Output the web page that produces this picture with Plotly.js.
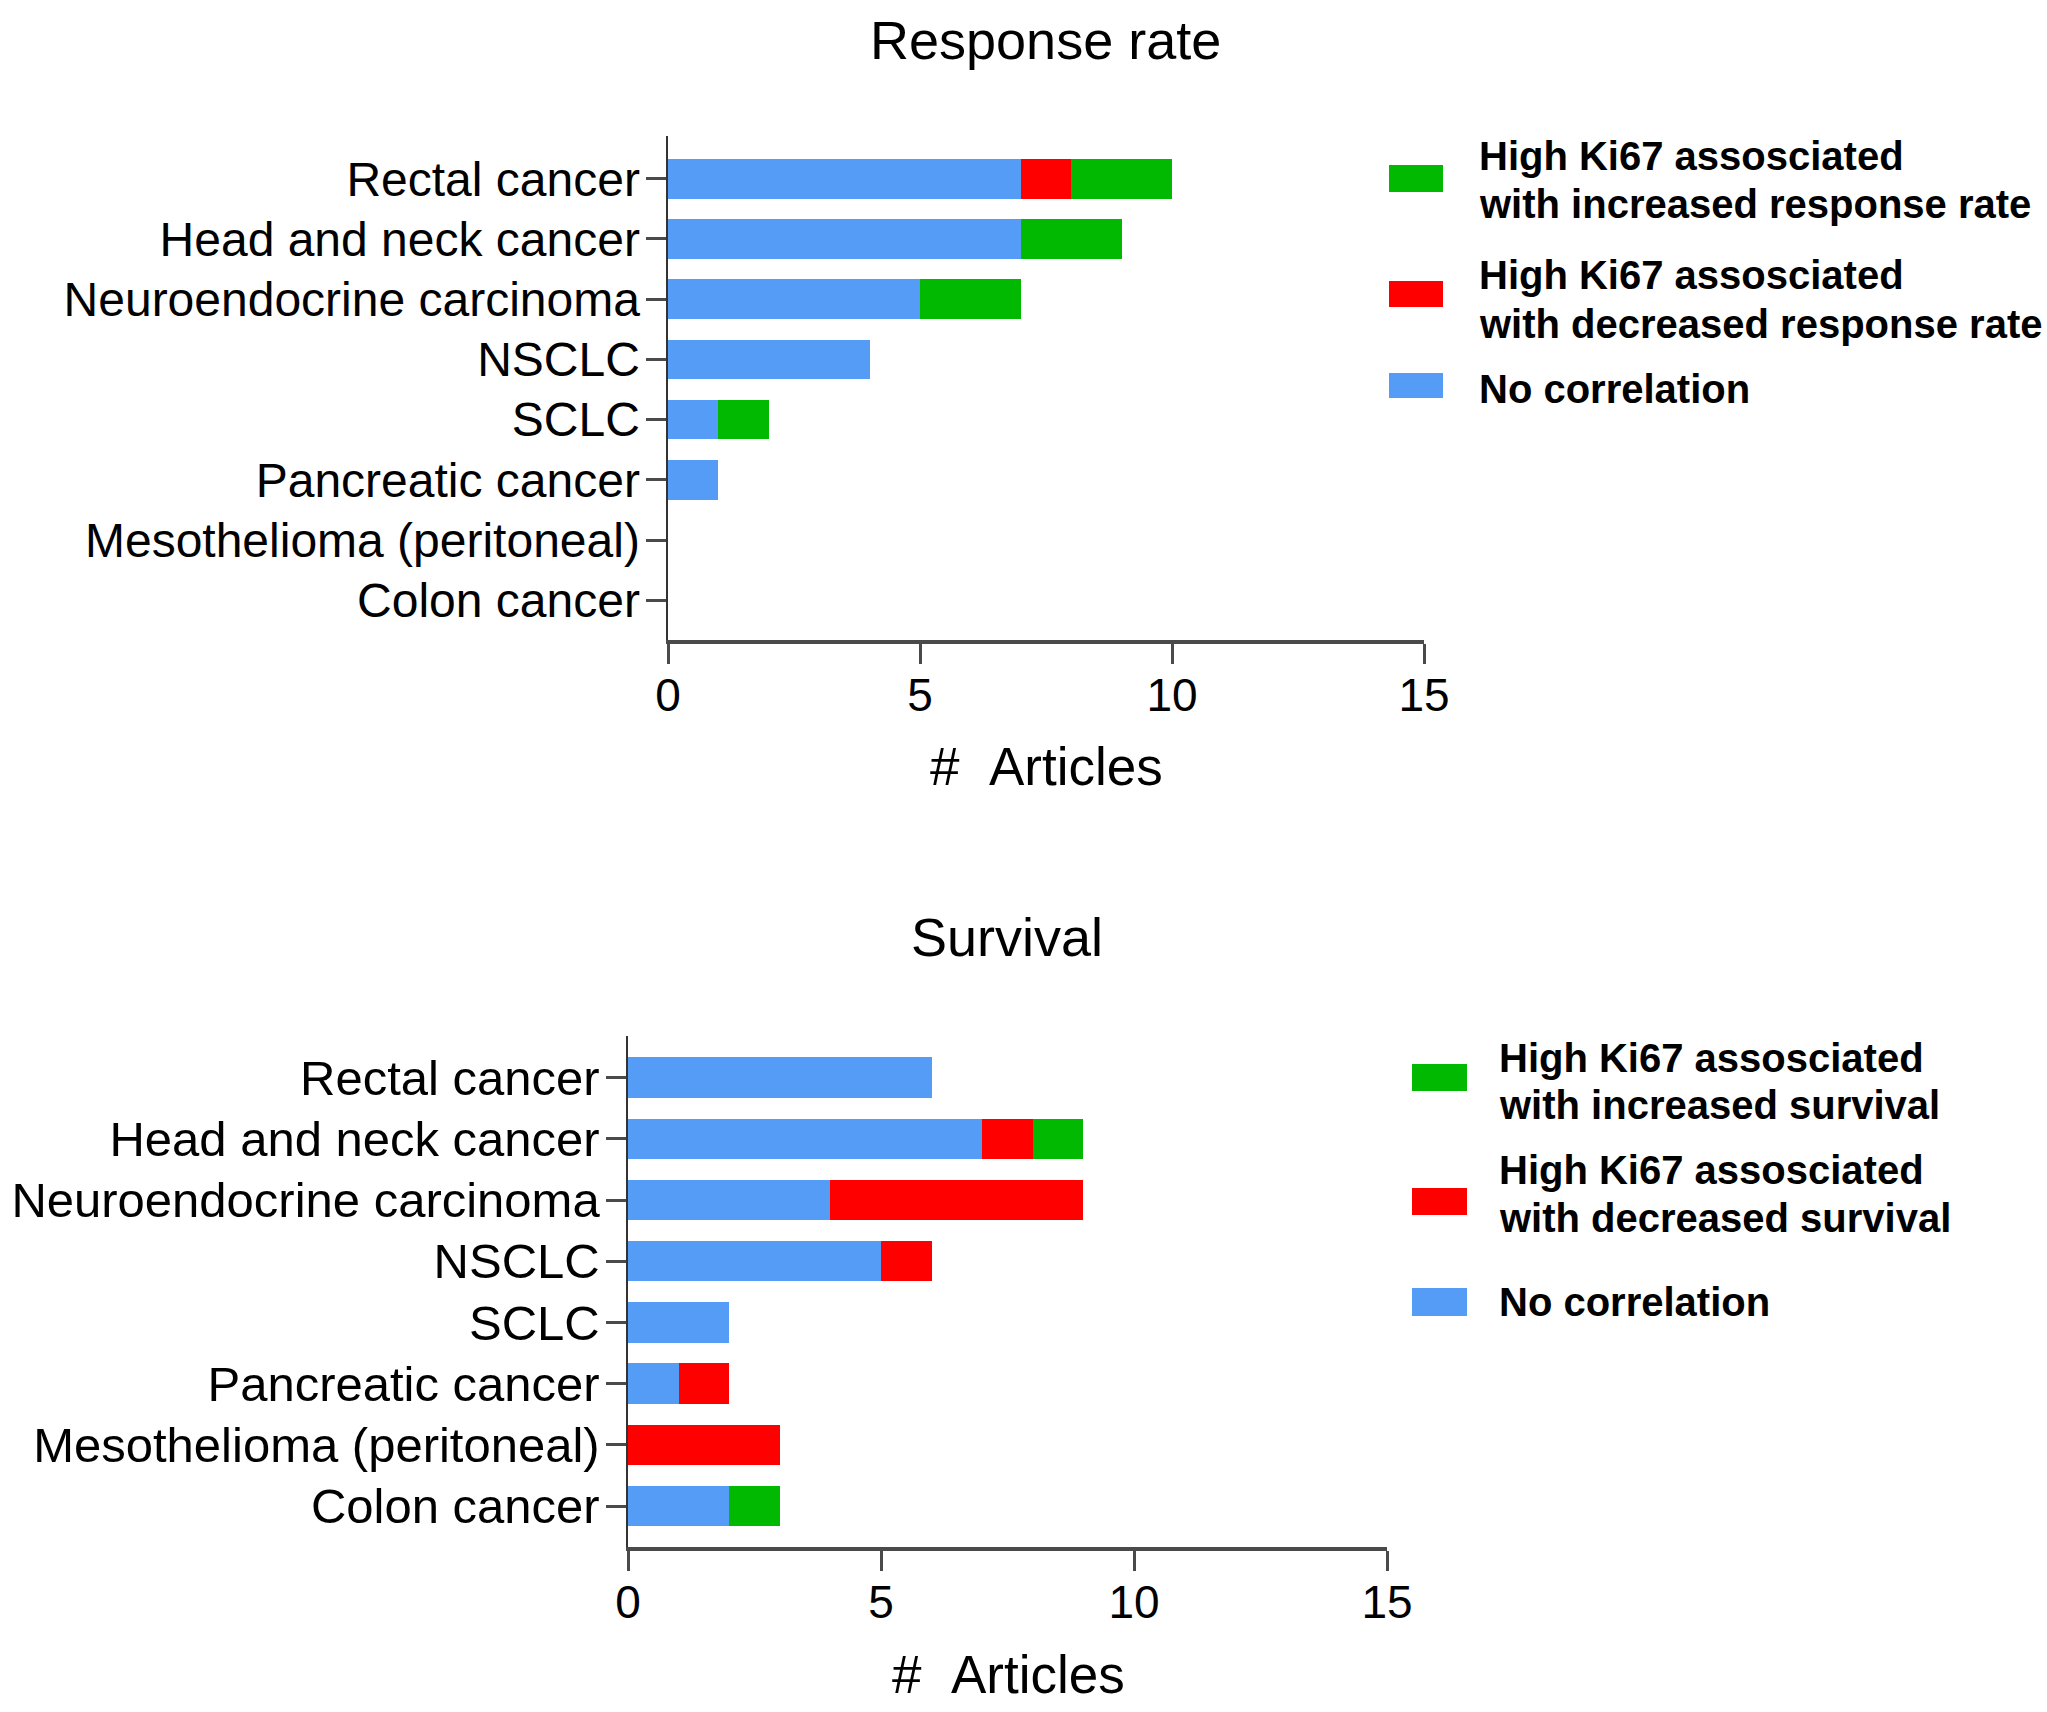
<!DOCTYPE html>
<html>
<head>
<meta charset="utf-8">
<script src="https://cdn.plot.ly/plotly-3.0.1.min.js"></script>
<style>
  html, body { margin: 0; padding: 0; background: #ffffff; }
  #chart { width: 2047px; height: 1712px; }
</style>
</head>
<body>
<div id="chart"></div>
<script>
// ---- data ---------------------------------------------------------------
const categories = [
  'Rectal cancer', 'Head and neck cancer', 'Neuroendocrine carcinoma', 'NSCLC',
  'SCLC', 'Pancreatic cancer', 'Mesothelioma (peritoneal)', 'Colon cancer'
];

// Response rate panel (# articles)
const responseNoCorr    = [7, 7, 5, 4, 1, 1, 0, 0];
const responseDecreased = [1, 0, 0, 0, 0, 0, 0, 0];
const responseIncreased = [2, 2, 2, 0, 1, 0, 0, 0];

// Survival panel (# articles)
const survivalNoCorr    = [6, 7, 4, 5, 2, 1, 0, 2];
const survivalDecreased = [0, 1, 5, 1, 0, 1, 3, 0];
const survivalIncreased = [0, 1, 0, 0, 0, 0, 0, 1];

const xTicks = [0, 5, 10, 15];

const panelTitles = ['Response rate', 'Survival'];
const axisTitle = '#\u00a0\u00a0Articles';

const responseLegend = [
  ['High Ki67 assosciated', 'with increased response rate'],
  ['High Ki67 assosciated', 'with decreased response rate'],
  ['No correlation']
];
const survivalLegend = [
  ['High Ki67 assosciated', 'with increased survival'],
  ['High Ki67 assosciated', 'with decreased survival'],
  ['No correlation']
];

// ---- styling --------------------------------------------------------------
const W = 2047, H = 1712;
const FONT = 'Liberation Sans, Arial, Helvetica, sans-serif';
const COLORS = {
  increased: '#00b900',
  decreased: '#ff0000',
  none: '#559cf7',
  axis: '#4a4a4a'
};

// pixel -> paper helpers (margins are zero)
const px = x => x / W;
const py = y => 1 - y / H;

function barTrace(values, color, name, xa, ya) {
  return {
    type: 'bar',
    orientation: 'h',
    x: values,
    y: categories,
    name: name,
    xaxis: xa,
    yaxis: ya,
    marker: { color: color, line: { width: 0 } },
    showlegend: false,
    hoverinfo: 'x+y+name'
  };
}

const traces = [
  barTrace(responseNoCorr, COLORS.none, 'No correlation', 'x', 'y'),
  barTrace(responseDecreased, COLORS.decreased, 'Decreased response rate', 'x', 'y'),
  barTrace(responseIncreased, COLORS.increased, 'Increased response rate', 'x', 'y'),
  barTrace(survivalNoCorr, COLORS.none, 'No correlation', 'x2', 'y2'),
  barTrace(survivalDecreased, COLORS.decreased, 'Decreased survival', 'x2', 'y2'),
  barTrace(survivalIncreased, COLORS.increased, 'Increased survival', 'x2', 'y2')
];

function xAxis(domain, anchor) {
  return {
    domain: domain,
    anchor: anchor,
    range: [0, 15],
    tickmode: 'array',
    tickvals: xTicks,
    ticks: 'outside',
    ticklen: 20,
    tickwidth: 3,
    tickcolor: COLORS.axis,
    ticklabelstandoff: -8,
    showline: true,
    linewidth: 4,
    linecolor: COLORS.axis,
    showgrid: false,
    zeroline: false,
    fixedrange: true,
    tickfont: { family: FONT, size: 46, color: '#000' }
  };
}

function yAxis(domain, anchor, range, fontSize) {
  return {
    domain: domain,
    anchor: anchor,
    type: 'category',
    categoryorder: 'array',
    categoryarray: categories,
    range: range,
    ticks: 'outside',
    ticklen: 20,
    tickwidth: 3,
    tickcolor: COLORS.axis,
    ticklabelstandoff: -4,
    showline: true,
    linewidth: 2.5,
    linecolor: '#333',
    showgrid: false,
    zeroline: false,
    fixedrange: true,
    tickfont: { family: FONT, size: fontSize, color: '#000' }
  };
}

// legend drawn as shapes + text so the swatches keep the original size
const shapes = [];
const annotations = [];

function addLegend(entries, swX, swW, swYs, textX, lineYs) {
  const cols = [COLORS.increased, COLORS.decreased, COLORS.none];
  entries.forEach((lines, i) => {
    shapes.push({
      type: 'rect', xref: 'paper', yref: 'paper',
      x0: px(swX), x1: px(swX + swW),
      y0: py(swYs[i][0]), y1: py(swYs[i][1]),
      fillcolor: cols[i], line: { width: 0 }
    });
    lines.forEach((txt, j) => {
      annotations.push({
        xref: 'paper', yref: 'paper',
        x: px(textX), y: py(lineYs[i][j]),
        xanchor: 'left', yanchor: 'middle',
        text: txt, showarrow: false,
        font: { family: FONT, size: 40, color: '#000', weight: 'bold' }
      });
    });
  });
}

addLegend(responseLegend, 1389, 54,
  [[165, 192], [281, 307], [373, 398]], 1477,
  [[156, 204], [275, 324], [389]]);
addLegend(survivalLegend, 1412, 55,
  [[1064, 1091], [1188, 1215], [1288, 1316]], 1497,
  [[1058, 1105], [1170, 1218], [1302]]);

function addText(txt, x, y, size) {
  annotations.push({
    xref: 'paper', yref: 'paper', x: px(x), y: py(y),
    xanchor: 'center', yanchor: 'middle', showarrow: false,
    text: txt, font: { family: FONT, size: size, color: '#000' }
  });
}

addText(panelTitles[0], 1045, 40, 54);
addText(panelTitles[1], 1007, 937, 54);
addText(axisTitle, 1046, 766, 53);
addText(axisTitle, 1008, 1674, 53);

const layout = {
  width: W,
  height: H,
  margin: { t: 0, r: 0, b: 0, l: 0 },
  paper_bgcolor: '#ffffff',
  plot_bgcolor: '#ffffff',
  barmode: 'stack',
  bargap: 0.34,
  showlegend: false,
  xaxis: xAxis([px(668), px(1424)], 'y'),
  yaxis: yAxis([py(640), py(136)], 'x', [7.66, -0.71], 48),
  xaxis2: xAxis([px(628), px(1387)], 'y2'),
  yaxis2: yAxis([py(1547), py(1036)], 'x2', [7.67, -0.68], 49),
  shapes: shapes,
  annotations: annotations
};

Plotly.newPlot('chart', traces, layout, { displayModeBar: false, staticPlot: true });
</script>
</body>
</html>
